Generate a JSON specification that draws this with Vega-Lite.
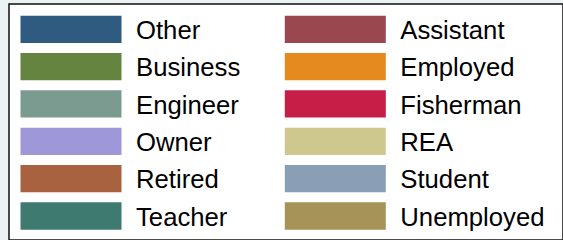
{
  "$schema": "https://vega.github.io/schema/vega-lite/v6.json",
  "width": 554,
  "height": 236,
  "autosize": {"type": "none"},
  "padding": {"left": 9, "top": 4, "right": 0, "bottom": 0},
  "background": "#eaf2f3",
  "config": {"view": {"fill": "#ffffff", "stroke": "#111111", "strokeWidth": 1.5}},
  "data": {"values": [
    {"label": "Other", "col": 0, "row": 0},
    {"label": "Business", "col": 0, "row": 1},
    {"label": "Engineer", "col": 0, "row": 2},
    {"label": "Owner", "col": 0, "row": 3},
    {"label": "Retired", "col": 0, "row": 4},
    {"label": "Teacher", "col": 0, "row": 5},
    {"label": "Assistant", "col": 1, "row": 0},
    {"label": "Employed", "col": 1, "row": 1},
    {"label": "Fisherman", "col": 1, "row": 2},
    {"label": "REA", "col": 1, "row": 3},
    {"label": "Student", "col": 1, "row": 4},
    {"label": "Unemployed", "col": 1, "row": 5}
  ]},
  "encoding": {
    "x": {"field": "col", "type": "quantitative", "scale": {"domain": [0, 1], "range": [62, 326.3]}, "axis": null},
    "y": {"field": "row", "type": "quantitative", "scale": {"domain": [0, 5], "range": [25.3, 212]}, "axis": null}
  },
  "layer": [
    {
      "mark": {"type": "point", "filled": true, "opacity": 1, "shape": "M-1,-0.27H1V0.27H-1Z", "size": 10201},
      "encoding": {
        "color": {
          "field": "label", "type": "nominal", "legend": null,
          "scale": {
            "domain": ["Other", "Business", "Engineer", "Owner", "Retired", "Teacher", "Assistant", "Employed", "Fisherman", "REA", "Student", "Unemployed"],
            "range": ["#2f5b80", "#65843f", "#7c9b90", "#9e97d8", "#a86240", "#3f7a70", "#9a4850", "#e58a1e", "#c71e48", "#cec88e", "#889fb6", "#a59357"]
          }
        }
      }
    },
    {
      "mark": {"type": "text", "align": "left", "baseline": "alphabetic", "dx": 65, "dy": 9.8, "font": "Liberation Sans", "fontSize": 25.7, "color": "#000000"},
      "encoding": {"text": {"field": "label", "type": "nominal"}}
    }
  ]
}
